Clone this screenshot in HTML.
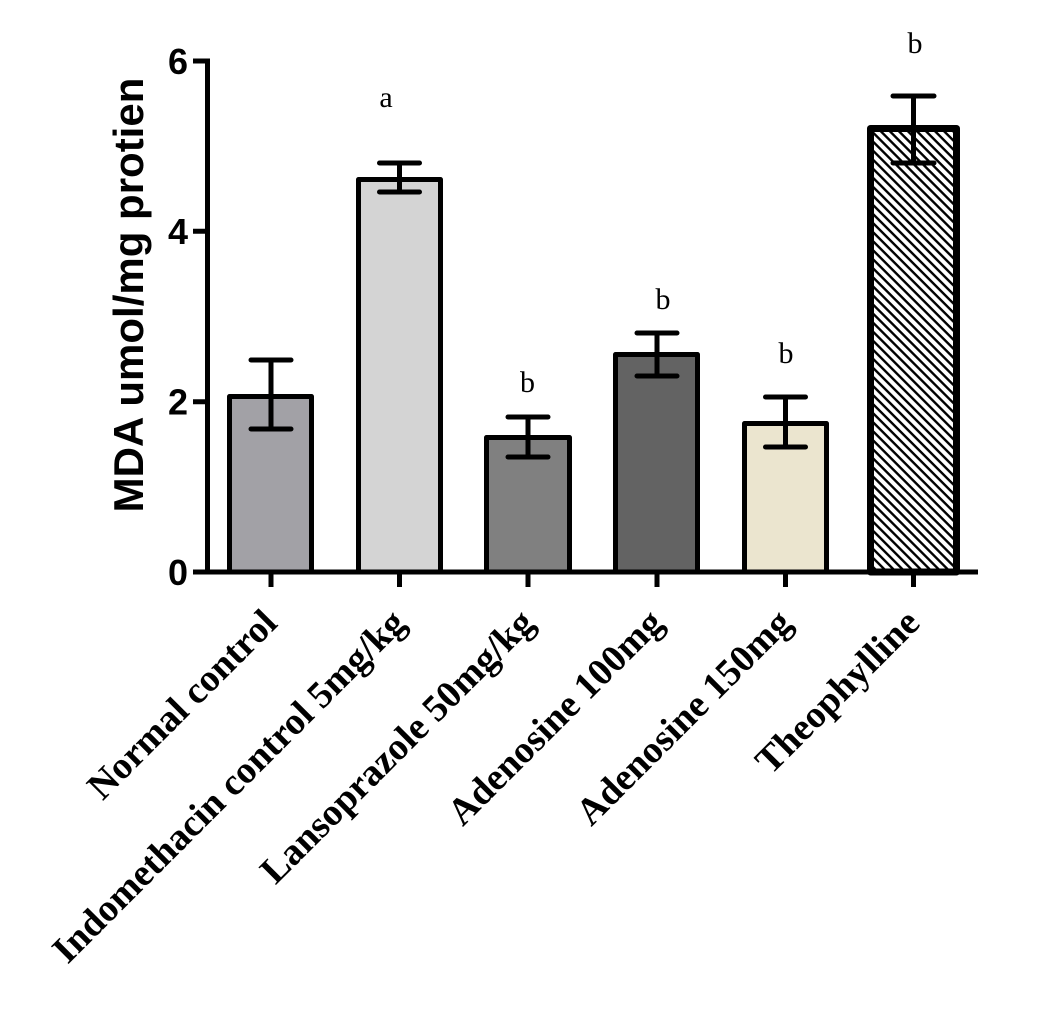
<!DOCTYPE html>
<html><head><meta charset="utf-8"><style>
html,body{margin:0;padding:0;background:#fff;}
svg{display:block;}
</style></head><body>
<svg width="1049" height="1011" viewBox="0 0 1049 1011" xmlns="http://www.w3.org/2000/svg">
<defs>
<pattern id="hatch" patternUnits="userSpaceOnUse" width="10" height="6.4" patternTransform="rotate(45)">
<rect x="0" y="0" width="10" height="6.4" fill="#fff"/>
<rect x="0" y="0" width="10" height="2.4" fill="#000"/>
</pattern>
</defs>
<rect width="1049" height="1011" fill="#fff"/>

<!-- bars -->
<rect x="229.5" y="396.5" width="82" height="175.5" fill="#a2a1a6" stroke="#000" stroke-width="5" stroke-linejoin="round"/>
<rect x="358.5" y="179.5" width="82" height="392.5" fill="#d4d4d4" stroke="#000" stroke-width="5" stroke-linejoin="round"/>
<rect x="486.5" y="437.5" width="83" height="134.5" fill="#808080" stroke="#000" stroke-width="5" stroke-linejoin="round"/>
<rect x="615.5" y="354.5" width="82" height="217.5" fill="#636363" stroke="#000" stroke-width="5" stroke-linejoin="round"/>
<rect x="744.5" y="423.5" width="82" height="148.5" fill="#ebe5cf" stroke="#000" stroke-width="5" stroke-linejoin="round"/>
<rect x="870.5" y="128.5" width="86" height="443.5" fill="url(#hatch)" stroke="#000" stroke-width="7" stroke-linejoin="round"/>

<!-- error bars -->
<g stroke="#000" stroke-width="5" stroke-linecap="round" fill="none">
<line x1="271" y1="360" x2="271" y2="429"/><line x1="251" y1="360" x2="291" y2="360"/><line x1="251" y1="429" x2="291" y2="429"/>
<line x1="399.5" y1="163" x2="399.5" y2="192"/><line x1="379.5" y1="163" x2="419.5" y2="163"/><line x1="379.5" y1="192" x2="419.5" y2="192"/>
<line x1="528" y1="417" x2="528" y2="457"/><line x1="508" y1="417" x2="548" y2="417"/><line x1="508" y1="457" x2="548" y2="457"/>
<line x1="657" y1="333" x2="657" y2="376"/><line x1="637" y1="333" x2="677" y2="333"/><line x1="637" y1="376" x2="677" y2="376"/>
<line x1="785.5" y1="397" x2="785.5" y2="447"/><line x1="765.5" y1="397" x2="805.5" y2="397"/><line x1="765.5" y1="447" x2="805.5" y2="447"/>
<line x1="913.5" y1="96" x2="913.5" y2="163"/><line x1="893" y1="96" x2="934" y2="96"/><line x1="893" y1="163" x2="934" y2="163"/>
</g>

<!-- axes -->
<g stroke="#000" stroke-width="5" fill="none">
<line x1="207.5" y1="58.5" x2="207.5" y2="574.5"/>
<line x1="193" y1="572" x2="978" y2="572"/>
<line x1="193" y1="61" x2="210" y2="61"/>
<line x1="193" y1="231.3" x2="210" y2="231.3"/>
<line x1="193" y1="401.7" x2="210" y2="401.7"/>
<line x1="271" y1="572" x2="271" y2="587"/>
<line x1="399.5" y1="572" x2="399.5" y2="587"/>
<line x1="528" y1="572" x2="528" y2="587"/>
<line x1="657" y1="572" x2="657" y2="587"/>
<line x1="785.5" y1="572" x2="785.5" y2="587"/>
<line x1="913.5" y1="572" x2="913.5" y2="587"/>
</g>

<!-- y tick labels -->
<g font-family="'Liberation Sans', Arial, sans-serif" font-weight="bold" font-size="36" text-anchor="end" fill="#000">
<text x="188" y="74">6</text>
<text x="188" y="244">4</text>
<text x="188" y="414.5">2</text>
<text x="188" y="585">0</text>
</g>

<!-- y axis title -->
<text x="143" y="295" transform="rotate(-90 143 295)" font-family="'Liberation Sans', Arial, sans-serif" font-weight="bold" font-size="42" text-anchor="middle" fill="#000">MDA umol/mg protien</text>

<!-- significance letters -->
<g font-family="'Liberation Serif', 'Times New Roman', serif" font-size="30" text-anchor="middle" fill="#000">
<text x="386" y="107">a</text>
<text x="527.5" y="392">b</text>
<text x="663" y="309">b</text>
<text x="786" y="363">b</text>
<text x="915" y="53">b</text>
</g>

<!-- x labels -->
<g font-family="'Liberation Serif', 'Times New Roman', serif" font-weight="bold" font-size="38" text-anchor="end" fill="#000">
<text transform="translate(279 625) rotate(-45)">Normal control</text>
<text transform="translate(407.5 625) rotate(-45)">Indomethacin control 5mg/kg</text>
<text transform="translate(536 625) rotate(-45)">Lansoprazole 50mg/kg</text>
<text transform="translate(665 625) rotate(-45)">Adenosine 100mg</text>
<text transform="translate(793.5 625) rotate(-45)">Adenosine 150mg</text>
<text transform="translate(921.5 625) rotate(-45)">Theophylline</text>
</g>
</svg>
</body></html>
